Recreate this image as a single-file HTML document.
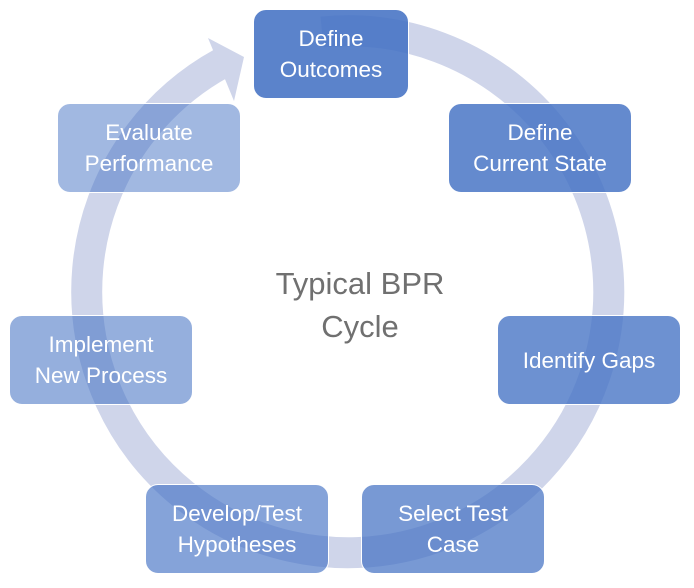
<!DOCTYPE html>
<html><head><style>
body{margin:0;width:694px;height:588px;background:#fff;position:relative;overflow:hidden;font-family:"Liberation Sans",sans-serif}
.b{position:absolute;width:184px;height:90px;border-radius:13px;border:1px solid #fff;box-sizing:border-box;color:#fff;font-size:22.5px;line-height:31px;display:flex;align-items:center;justify-content:center;text-align:center;white-space:nowrap}
.c{position:absolute;left:210px;width:300px;text-align:center;color:#707070;font-size:31px;line-height:43px;top:262px}
</style></head><body>
<svg width="694" height="588" style="position:absolute;left:0;top:0">
<path d="M 322 32 A 261 261 0 1 1 222 63" fill="none" stroke="#cfd5ea" stroke-width="31"/>
<polygon points="208,38 244,57 234,101" fill="#cfd5ea"/>
</svg>
<div class="b" style="left:253px;top:9px;width:156px;background:rgba(68,114,196,0.88)">Define<br>Outcomes</div>
<div class="b" style="left:448px;top:103px;background:rgba(68,114,196,0.83)">Define<br>Current State</div>
<div class="b" style="left:497px;top:315px;background:rgba(68,114,196,0.78)">Identify Gaps</div>
<div class="b" style="left:361px;top:484px;background:rgba(68,114,196,0.72)">Select Test<br>Case</div>
<div class="b" style="left:145px;top:484px;background:rgba(68,114,196,0.65)">Develop/Test<br>Hypotheses</div>
<div class="b" style="left:9px;top:315px;background:rgba(68,114,196,0.57)">Implement<br>New Process</div>
<div class="b" style="left:57px;top:103px;background:rgba(68,114,196,0.5)">Evaluate<br>Performance</div>
<div class="c">Typical BPR<br>Cycle</div>
</body></html>
